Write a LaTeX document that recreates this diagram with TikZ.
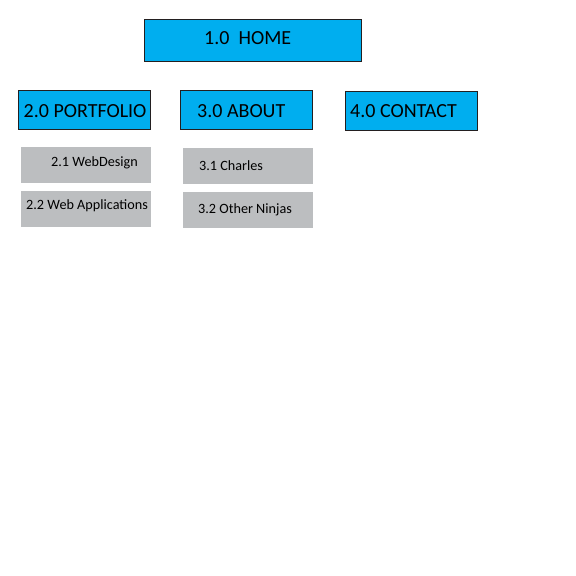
\documentclass[tikz,border=0pt]{standalone}
\usepackage{fontspec}
\setmainfont{Carlito}
\definecolor{navblue}{HTML}{00AEEF}
\definecolor{subgray}{HTML}{BCBEC0}
\definecolor{edge}{HTML}{231F20}
\tikzset{
  topbox/.style={draw=edge, line width=1pt, fill=navblue, inner sep=0pt},
  subbox/.style={fill=subgray, inner sep=0pt},
  toptext/.style={anchor=base west, inner sep=0pt, font=\fontsize{20}{22}\selectfont, text=black},
  subtext/.style={anchor=base west, inner sep=0pt, font=\fontsize{14.2}{16}\selectfont, text=black}
}
\begin{document}
\begin{tikzpicture}[x=1pt, y=-1pt]
  \useasboundingbox (0,0) rectangle (576,576);

    % Level 1
    \node[topbox, minimum width=217pt, minimum height=42pt] (home) at (253.2,40.2) {};
    \node[toptext] (hometext) at (204,44) {1.0\ \ HOME};

    % Level 2
    \node[topbox, minimum width=132pt, minimum height=39pt] (portfolio) at (84.2,109.5) {};
    \node[toptext] (portfoliotext) at (23.5,117.5) {2.0 PORTFOLIO};

    \node[topbox, minimum width=132pt, minimum height=39pt] (about) at (246,110.2) {};
    \node[toptext] (abouttext) at (197,117.5) {3.0 ABOUT};

    \node[topbox, minimum width=132pt, minimum height=39pt] (contact) at (411.3,110.8) {};
    \node[toptext] (contacttext) at (350,117.5) {4.0 CONTACT};

    % Level 3
    \node[subbox, minimum width=130pt, minimum height=36pt] (webdesign) at (85.8,165) {};
    \node[subtext] (webdesigntext) at (51,166) {2.1 WebDesign};

    \node[subbox, minimum width=130pt, minimum height=36pt] (webapps) at (86,209) {};
    \node[subtext] (webappstext) at (26,209) {2.2 Web Applications};

    \node[subbox, minimum width=130pt, minimum height=36pt] (charles) at (247.8,166.2) {};
    \node[subtext] (charlestext) at (199,170.5) {3.1 Charles};

    \node[subbox, minimum width=130pt, minimum height=36pt] (ninjas) at (248.3,210) {};
    \node[subtext] (ninjastext) at (198,213.5) {3.2 Other Ninjas};

\end{tikzpicture}
\end{document}
